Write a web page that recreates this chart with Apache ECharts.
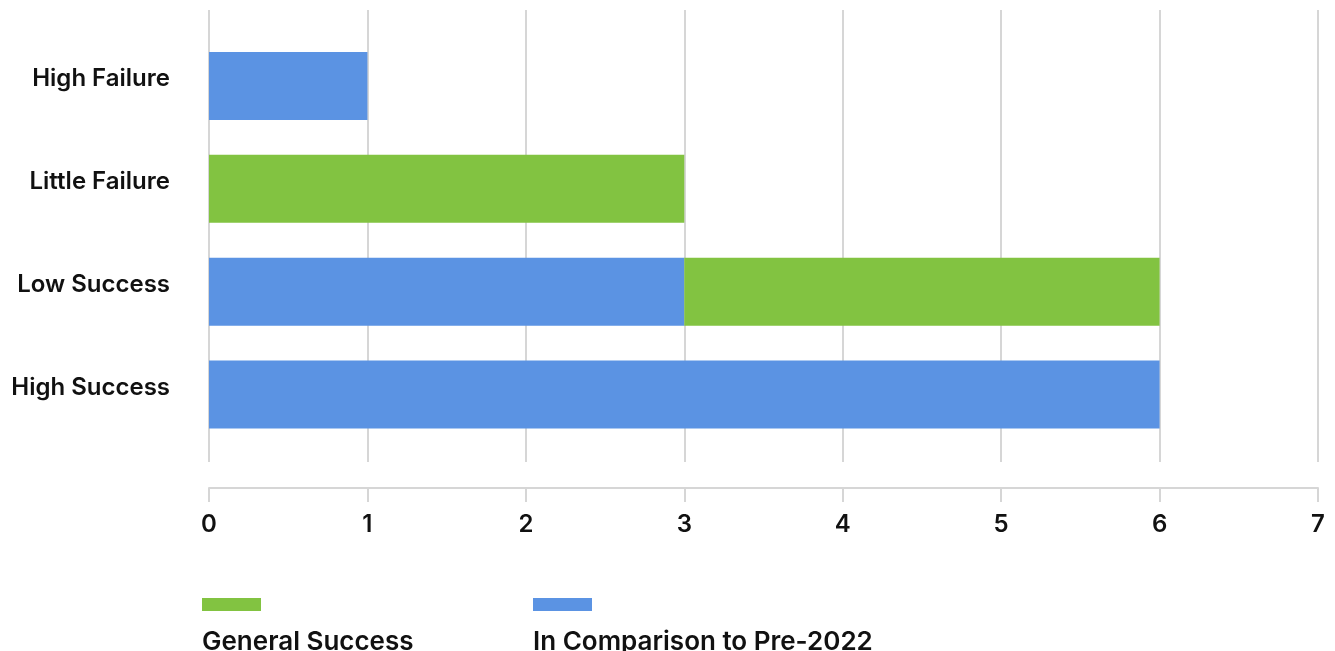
<!DOCTYPE html>
<html>
<head>
<meta charset="utf-8">
<style>
  html, body { margin: 0; padding: 0; background: #ffffff; }
  #chart { width: 1335px; height: 651px; }
</style>
<script src="https://cdn.jsdelivr.net/npm/echarts@6/dist/echarts.min.js"></script>
</head>
<body>
<div id="chart"></div>
<script>
// Outcome categories, listed bottom to top
const categories = ['High Success', 'Low Success', 'Little Failure', 'High Failure'];
// Counts per series
const comparisonPre2022 = [6, 3, 0, 1];
const generalSuccess = [0, 3, 3, 0];
const xTicks = [0, 1, 2, 3, 4, 5, 6, 7];

const BLUE = '#5b93e3';
const GREEN = '#82c341';
const FONT = 'Inter, "Noto Sans", sans-serif';

const chart = echarts.init(document.getElementById('chart'), null, { renderer: 'canvas' });

const legendBase = {
  orient: 'horizontal',
  selectedMode: true,
  itemGap: 0,
  padding: 0,
  textStyle: { fontFamily: FONT, fontSize: 26, fontWeight: 600, color: '#111111' }
};

chart.setOption({
  animation: false,
  backgroundColor: '#ffffff',
  grid: [
    // frame carrying the gridlines and the value axis
    { left: 209, right: 17, top: 10, bottom: 189 },
    // frame carrying the bars and category labels
    { left: 209, right: 17, top: 34.5, bottom: 205 }
  ],
  xAxis: [
    {
      gridIndex: 0,
      type: 'value',
      min: xTicks[0],
      max: xTicks[xTicks.length - 1],
      interval: 1,
      offset: 26,
      axisLine: { show: true, onZero: false, lineStyle: { color: '#d6d6d6', width: 2 } },
      axisTick: { show: true, length: 14, lineStyle: { color: '#d6d6d6', width: 2 } },
      axisLabel: { margin: 25, fontFamily: FONT, fontSize: 24, fontWeight: 600, color: '#111111' },
      splitLine: { show: true, lineStyle: { color: '#d6d6d6', width: 2 } }
    },
    {
      gridIndex: 1,
      type: 'value',
      min: xTicks[0],
      max: xTicks[xTicks.length - 1],
      interval: 1,
      show: false,
      splitLine: { show: false }
    }
  ],
  yAxis: [
    {
      gridIndex: 0,
      type: 'value',
      show: false,
      splitLine: { show: false }
    },
    {
      gridIndex: 1,
      type: 'category',
      data: categories,
      axisLine: { show: false },
      axisTick: { show: false },
      splitLine: { show: false },
      axisLabel: {
        margin: 39,
        fontFamily: FONT,
        fontSize: 24,
        fontWeight: 600,
        color: '#111111',
        verticalAlign: 'bottom',
        lineHeight: 14
      }
    }
  ],
  legend: [
    Object.assign({}, legendBase, {
      data: ['General Success'], left: 202, top: 598,
      icon: 'rect', itemWidth: 59, itemHeight: 13, formatter: () => ''
    }),
    Object.assign({}, legendBase, {
      data: ['In Comparison to Pre-2022'], left: 533, top: 598,
      icon: 'rect', itemWidth: 59, itemHeight: 13, formatter: () => ''
    }),
    Object.assign({}, legendBase, {
      data: ['General Success'], left: 197, top: 629,
      icon: 'none', itemWidth: 0, itemHeight: 2
    }),
    Object.assign({}, legendBase, {
      data: ['In Comparison to Pre-2022'], left: 528, top: 629,
      icon: 'none', itemWidth: 0, itemHeight: 2
    })
  ],
  series: [
    {
      name: 'In Comparison to Pre-2022',
      type: 'bar',
      stack: 'total',
      xAxisIndex: 1,
      yAxisIndex: 1,
      barWidth: '66%',
      itemStyle: { color: BLUE },
      data: comparisonPre2022
    },
    {
      name: 'General Success',
      type: 'bar',
      stack: 'total',
      xAxisIndex: 1,
      yAxisIndex: 1,
      barWidth: '66%',
      itemStyle: { color: GREEN },
      data: generalSuccess
    }
  ]
});
</script>
</body>
</html>
